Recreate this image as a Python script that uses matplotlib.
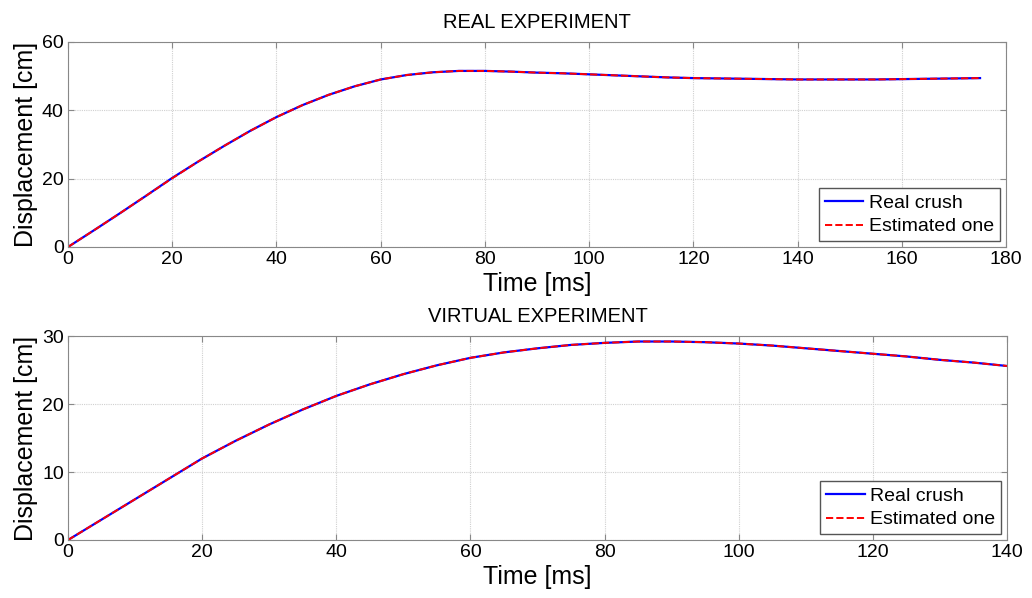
import numpy as np
import matplotlib.pyplot as plt

plt.rcParams['font.family'] = ['Liberation Sans', 'DejaVu Sans']

# Real experiment (ms, cm)
t_real = np.arange(0, 180, 5)
real_crush = [0, 4.9, 9.9, 15.0, 20.2, 25.0, 29.6, 34.0, 38.0, 41.5, 44.5, 47.0,
              49.0, 50.3, 51.1, 51.5, 51.5, 51.3, 51.0, 50.8, 50.5, 50.2, 49.9,
              49.6, 49.4, 49.3, 49.2, 49.1, 49.0, 49.0, 49.0, 49.0, 49.1, 49.2,
              49.3, 49.4]
real_est = [0, 4.9, 9.9, 15.0, 20.1, 25.0, 29.6, 34.0, 38.0, 41.5, 44.5, 47.0,
            49.0, 50.3, 51.1, 51.5, 51.5, 51.3, 51.0, 50.8, 50.5, 50.2, 49.9,
            49.6, 49.4, 49.3, 49.2, 49.1, 49.0, 49.0, 49.0, 49.0, 49.1, 49.2,
            49.3, 49.4]

# Virtual experiment (ms, cm)
t_virt = np.arange(0, 145, 5)
virt_crush = [0, 3.0, 6.0, 9.0, 12.0, 14.6, 17.0, 19.2, 21.2, 22.9, 24.4, 25.7,
              26.8, 27.6, 28.2, 28.7, 29.0, 29.2, 29.2, 29.1, 28.9, 28.6, 28.2,
              27.8, 27.4, 27.0, 26.5, 26.1, 25.6]
virt_est = [0, 3.0, 6.0, 9.0, 12.0, 14.6, 17.0, 19.2, 21.2, 22.9, 24.4, 25.7,
            26.8, 27.6, 28.2, 28.7, 29.0, 29.2, 29.2, 29.1, 28.9, 28.6, 28.2,
            27.8, 27.4, 27.0, 26.5, 26.1, 25.6]

fig = plt.figure(figsize=(10.32, 5.98), dpi=100)
ax1 = fig.add_axes([0.0659, 0.587, 0.909, 0.343])
ax2 = fig.add_axes([0.0659, 0.097, 0.910, 0.341])


def style_axes(ax, title, xlim, xticks, ylim, yticks):
    ax.set_xlim(*xlim)
    ax.set_ylim(*ylim)
    ax.set_xticks(xticks)
    ax.set_yticks(yticks)
    ax.grid(True, color='#d0d0d0', linestyle=(0, (1, 1)), linewidth=0.8)
    ax.tick_params(direction='in', top=True, right=True, labelsize=14,
                   length=4, color='#888888', pad=3)
    for s in ax.spines.values():
        s.set_color('#888888')
    ax.set_title(title, fontsize=14.5, pad=10)
    ax.set_xlabel('Time [ms]', fontsize=18, labelpad=3)
    ax.set_ylabel('Displacement [cm]', fontsize=18, labelpad=3)
    ax.legend(loc='lower right', fontsize=14, fancybox=False, framealpha=1,
              edgecolor='#555555', handlelength=2.0, handletextpad=0.3,
              borderpad=0.3, labelspacing=0.3, borderaxespad=0.3)


ax1.plot(t_real, real_crush, color='#0000ff', lw=1.6, label='Real crush')
ax1.plot(t_real, real_est, color='#ff0000', lw=1.4, ls='--', label='Estimated one')
style_axes(ax1, 'REAL EXPERIMENT', (0, 180), range(0, 181, 20), (0, 60), range(0, 61, 20))

ax2.plot(t_virt, virt_crush, color='#0000ff', lw=1.6, label='Real crush')
ax2.plot(t_virt, virt_est, color='#ff0000', lw=1.4, ls='--', label='Estimated one')
style_axes(ax2, 'VIRTUAL EXPERIMENT', (0, 140), range(0, 141, 20), (0, 30), range(0, 31, 10))

fig.savefig('out.png', dpi=100)
